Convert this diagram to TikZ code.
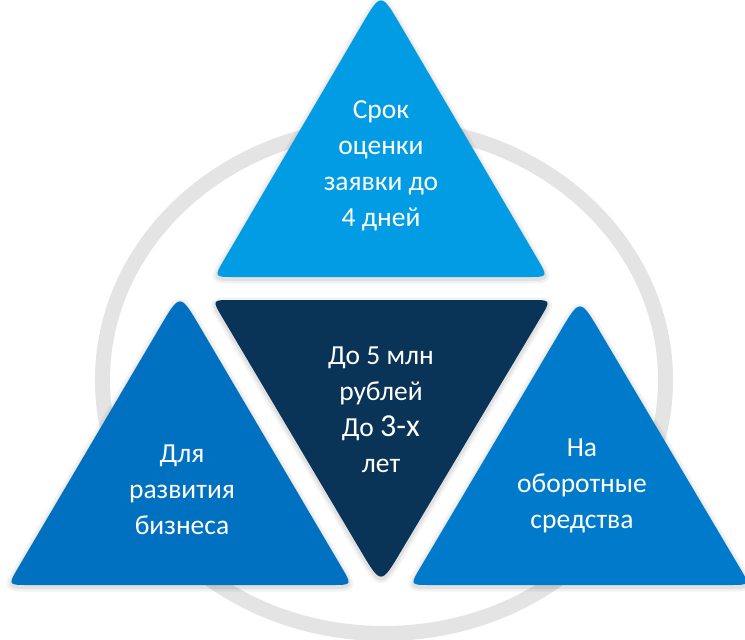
\documentclass[tikz,border=0pt]{standalone}
\usepackage{fontspec}
\setmainfont{Carlito}
\definecolor{ringgray}{HTML}{E4E4E4}
\definecolor{skyblue}{HTML}{019CE4}
\definecolor{leftblue}{HTML}{0070C0}
\definecolor{rightblue}{HTML}{007BCB}
\definecolor{navy}{HTML}{0A3457}

\begin{document}
\begin{tikzpicture}[x=1pt,y=1pt]
\tikzstyle{every node}+=[inner sep=0pt, text=white, align=center, font=\fontsize{27.5}{36}\selectfont]
\tikzstyle{tri}=[line join=round,
  preaction={draw=black, opacity=0.05, line width=9pt, transform canvas={yshift=-2pt}},
  preaction={draw=black, opacity=0.07, line width=4pt, transform canvas={yshift=-2pt}}]
\useasboundingbox (0,0) rectangle (745,-640);
% ring behind the triangles
\draw [ringgray, line width=15pt] (384,-380) ellipse [x radius=281.5, y radius=253.5];
% top
\fill [skyblue, tri] (381,-277) -- (528,-277) .. controls (548,-277) .. (537.9,-259.7)
  -- (400.7,-25.6) .. controls (381,8) .. (361.3,-25.6)
  -- (224.1,-259.7) .. controls (214,-277) .. (234,-277) -- cycle;
\node (term) at (381,-166) {Срок\\оценки\\заявки до\\4 дней};
% centre, upside down
\fill [navy, tri] (381,-300) -- (531,-300) .. controls (551,-300) .. (540.8,-317.2)
  -- (400.9,-551.5) .. controls (381,-585) .. (361.1,-551.5)
  -- (222.2,-317.2) .. controls (212,-300) .. (232,-300) -- cycle;
\node (sum) at (381,-410) {До 5 млн\\рублей\\До {\fontsize{32}{36}\selectfont 3-х}\\лет};
% left
\fill [leftblue, tri] (180,-585) -- (332,-585) .. controls (352,-585) .. (341.9,-567.8)
  -- (199.8,-326.6) .. controls (180,-293) .. (160.2,-326.6)
  -- (18.1,-567.8) .. controls (8,-585) .. (28,-585) -- cycle;
\node (purpose) at (182,-490) {Для\\развития\\бизнеса};
% right
\fill [rightblue, tri] (580,-585) -- (730,-585) .. controls (750,-585) .. (739.8,-567.8)
  -- (599.9,-331.6) .. controls (580,-298) .. (560.1,-331.6)
  -- (420.2,-567.8) .. controls (410,-585) .. (430,-585) -- cycle;
\node (funds) at (582,-486) {На\\оборотные\\средства};
\end{tikzpicture}
\end{document}
